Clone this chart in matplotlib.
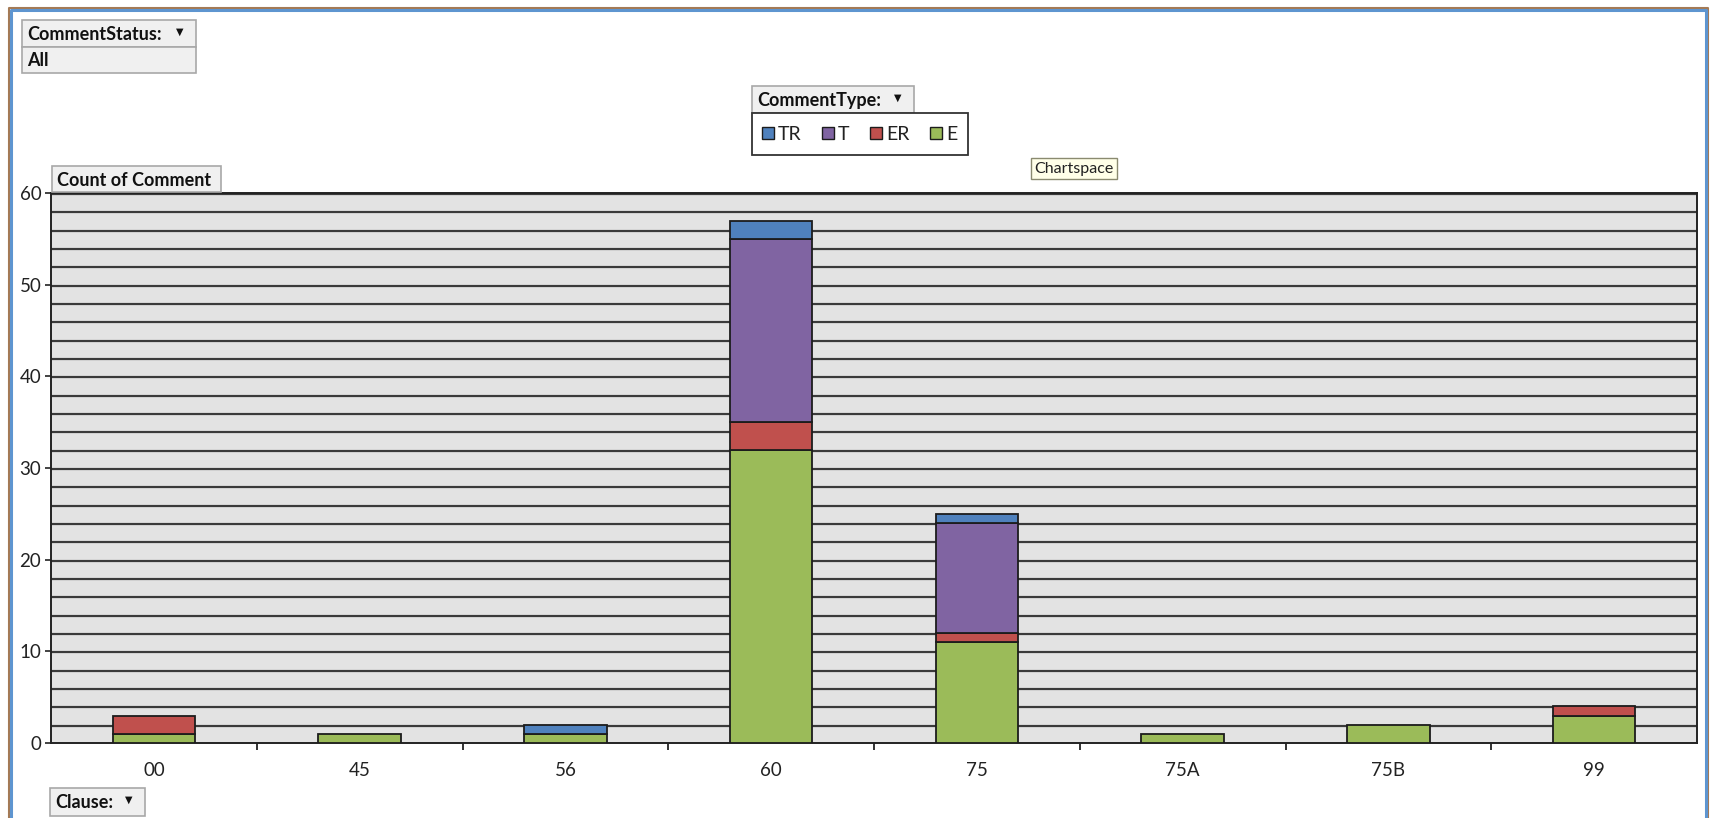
#!/usr/bin/env python3
"""Pivot chart: Count of Comment by Clause, stacked by CommentType."""

import matplotlib
matplotlib.use("Agg")
import matplotlib.pyplot as plt
from matplotlib.patches import Rectangle
import numpy as np

plt.rcParams["font.family"] = ["Lato", "DejaVu Sans"]

# ── data ────────────────────────────────────────────────────────────────
clauses = ["00", "45", "56", "60", "75", "75A", "75B", "99"]
comment_types = ["E", "ER", "T", "TR"]          # stacking order, bottom → top
e_counts = [1, 1, 1, 32, 11, 1, 2, 3]
er_counts = [2, 0, 0, 3, 1, 0, 0, 1]
t_counts = [0, 0, 0, 20, 12, 0, 0, 0]
tr_counts = [0, 0, 1, 2, 1, 0, 0, 0]
legend_order = ["TR", "T", "ER", "E"]
y_ticks = [0, 10, 20, 30, 40, 50, 60]

COLORS = {"TR": "#4F81BD", "T": "#8064A2", "ER": "#C0504D", "E": "#9BBB59"}
EDGE = "#1c1c1c"

W, H = 1711, 818
fig = plt.figure(figsize=(W / 100, H / 100), dpi=100)
fig.patch.set_facecolor("white")


def px_axes(x0, y0, x1, y1):
    """Axes rect from pixel box (top-left origin)."""
    return [x0 / W, 1 - y1 / H, (x1 - x0) / W, (y1 - y0) / H]


# ── main plot ───────────────────────────────────────────────────────────
ax = fig.add_axes(px_axes(51, 193, 1697, 743))
ax.set_facecolor("#E3E3E3")
x = np.arange(len(clauses))
series = {"E": e_counts, "ER": er_counts, "T": t_counts, "TR": tr_counts}
bottom = np.zeros(len(clauses))
for ct in comment_types:
    vals = np.array(series[ct], dtype=float)
    mask = vals > 0
    ax.bar(x[mask], vals[mask], bottom=bottom[mask], width=0.40,
           color=COLORS[ct], edgecolor=EDGE, linewidth=1.3, zorder=3)
    bottom += vals

for yv in range(2, 61, 2):
    ax.axhline(yv, color="white", linewidth=1.0, zorder=1, alpha=0.9)
    ax.axhline(yv - 0.12, color="#3a3a3a", linewidth=1.6, zorder=2)

ax.set_xlim(-0.5, len(clauses) - 0.5)
ax.set_ylim(0, 60)
ax.set_yticks(y_ticks)
ax.set_yticklabels([str(v) for v in y_ticks], fontsize=13.5, color="#222222")
ax.set_xticks(x)
ax.set_xticklabels(clauses, fontsize=13.5, color="#222222")
ax.tick_params(axis="x", length=0, pad=14)
ax.set_xticks(np.arange(0.5, len(clauses) - 0.5, 1), minor=True)
ax.tick_params(axis="x", which="minor", length=5, width=1.3, color="#222222")
ax.tick_params(axis="y", length=4, width=1.2, pad=3, color="#222222")
for s in ax.spines.values():
    s.set_color("#222222")
    s.set_linewidth(1.4)

# ── overlay: pivot field buttons, legend, frame ─────────────────────────
ov = fig.add_axes([0, 0, 1, 1], zorder=10)
ov.set_xlim(0, W)
ov.set_ylim(H, 0)
ov.axis("off")
ov.patch.set_alpha(0)


def button(x0, y0, x1, y1, text, arrow=False, fc="#F0F0F0"):
    ov.add_patch(Rectangle((x0, y0), x1 - x0, y1 - y0, facecolor=fc,
                           edgecolor="#A8A8A8", linewidth=1.2))
    ov.text(x0 + 5, (y0 + y1) / 2 + 1, text, fontsize=13, fontweight="bold",
            va="center", ha="left", color="#111111")
    if arrow:
        ov.text(x1 - 16, (y0 + y1) / 2 - 2, "▼", fontsize=7, va="center",
                ha="center", color="#111111", family="DejaVu Sans")


button(22, 20, 196, 47, "CommentStatus:", arrow=True)
button(22, 47, 196, 73, "All")
button(52, 166, 221, 192, "Count of Comment")
button(752, 86, 914, 113, "CommentType:", arrow=True)
button(50, 788, 145, 816, "Clause:", arrow=True)

# legend
ov.add_patch(Rectangle((752, 113), 216, 42, facecolor="white",
                       edgecolor="#333333", linewidth=1.3))
leg_x = [762, 822, 870, 930]
for name, lx in zip(legend_order, leg_x):
    ov.add_patch(Rectangle((lx, 127), 12, 12, facecolor=COLORS[name],
                           edgecolor=EDGE, linewidth=1.0))
    ov.text(lx + 16, 134, name, fontsize=14, va="center", ha="left",
            color="#222222")

# tooltip
ov.add_patch(Rectangle((1031, 158), 86, 21, facecolor="#FFFFE8",
                       edgecolor="#8a8a70", linewidth=1.0))
ov.text(1074, 169, "Chartspace", fontsize=11.5, va="center", ha="center",
        color="#222222")

# outer window frame
ov.plot([9, 9, 1708, 1708], [H, 8, 8, H], color="#A47A55", linewidth=1.5)
ov.plot([11, 11, 1706, 1706], [H, 10, 10, H], color="#5E95D0", linewidth=2.2)

fig.savefig("out.png", dpi=100)
